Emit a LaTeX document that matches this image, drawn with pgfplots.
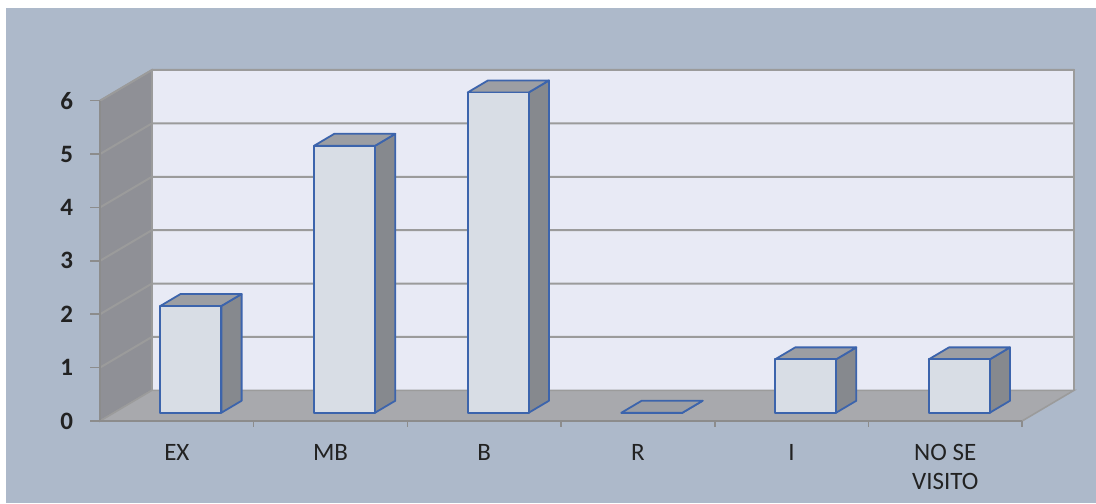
\documentclass[border=0pt]{standalone}
\usepackage{fontspec}
\setmainfont{Carlito}
\usepackage{pgfplots}
\usepackage{pgfplotstable}
\pgfplotsset{compat=1.18}
\definecolor{bgblue}{HTML}{ADB9CA}
\definecolor{wallfill}{HTML}{E8EAF5}
\definecolor{leftwall}{HTML}{8F9096}
\definecolor{floorgrey}{HTML}{A8A9AD}
\definecolor{gridgrey}{HTML}{9B9B9B}
\definecolor{axisgrey}{HTML}{8C8C8C}
\definecolor{barfront}{HTML}{D8DDE5}
\definecolor{barside}{HTML}{86898E}
\definecolor{bartop}{HTML}{9C9EA3}
\definecolor{barblue}{HTML}{3C64AC}
\definecolor{labelcol}{HTML}{222222}

\pgfplotstableread{
idx val
0 2
1 5
2 6
3 0
4 1
5 1
}\datatable

\newcommand{\drawbar}[2]{%
  \addplot[fill=barside, draw=barblue, line width=0.9pt, line join=round] coordinates {({#1+0.7898},0.155) ({#1+0.9215},0.3795) ({#1+0.9215},{#2+0.3795}) ({#1+0.7898},{#2+0.155})} -- cycle;
  \addplot[fill=bartop, draw=barblue, line width=0.9pt, line join=round] coordinates {({#1+0.3928},{#2+0.155}) ({#1+0.7898},{#2+0.155}) ({#1+0.9215},{#2+0.3795}) ({#1+0.5245},{#2+0.3795})} -- cycle;
  \addplot[fill=barfront, draw=barblue, line width=0.9pt, line join=round] coordinates {({#1+0.3928},0.155) ({#1+0.7898},0.155) ({#1+0.7898},{#2+0.155}) ({#1+0.3928},{#2+0.155})} -- cycle;
}

\begin{document}
\begin{tikzpicture}
\fill[white] (0,0) rectangle (548pt,251.5pt);
\fill[bgblue] (3pt,0) rectangle (548pt,247.5pt);
\begin{axis}[
  at={(50pt,41pt)}, anchor=south west,
  scale only axis, width=487pt, height=175.5pt,
  xmin=0, xmax=6.338, ymin=0, ymax=6.575,
  clip=false,
  axis line style={draw=none},
  tick style={draw=none},
  xtick={0.5,1.5,2.5,3.5,4.5,5.5},
  xticklabels={EX,MB,B,R,I,{NO SE\\VISITO}},
  ytick={0,1,2,3,4,5,6},
  /pgf/number format/assume math mode=true,
  xticklabel style={font=\fontsize{12.5}{14.5}\selectfont, text=labelcol, align=center, anchor=north, yshift=-8pt},
  yticklabel style={font=\fontsize{12.5}{14}\selectfont\bfseries, text=labelcol, anchor=east, xshift=-10pt},
]
% walls and floor
\addplot[fill=leftwall, draw=gridgrey, line width=0.8pt] coordinates {(0,0) (0.338,0.575) (0.338,6.575) (0,6)} -- cycle;
\addplot[fill=wallfill, draw=gridgrey, line width=0.8pt] coordinates {(0.338,0.575) (6.338,0.575) (6.338,6.575) (0.338,6.575)} -- cycle;
\addplot[fill=floorgrey, draw=gridgrey, line width=0.8pt] coordinates {(0,0) (6,0) (6.338,0.575) (0.338,0.575)} -- cycle;
% gridlines
\pgfplotsinvokeforeach{1,...,6}{
  \addplot[gridgrey, line width=1pt] coordinates {(0,#1) (0.338,#1+0.575) (6.338,#1+0.575)};
}
% axis lines and ticks
\addplot[axisgrey, line width=0.8pt] coordinates {(0,6) (0,0) (6,0)};
\pgfplotsinvokeforeach{0,...,6}{
  \addplot[axisgrey, line width=0.8pt] coordinates {(-0.065,#1) (0,#1)};
}
\pgfplotsinvokeforeach{1,...,6}{
  \addplot[axisgrey, line width=0.8pt] coordinates {(#1,0) (#1,-0.11)};
}
% bars
\pgfplotsinvokeforeach{0,...,5}{
  \pgfplotstablegetelem{#1}{val}\of\datatable
  \edef\barval{\pgfplotsretval}
  \edef\cmd{\noexpand\drawbar{#1}{\barval}}
  \cmd
}
\end{axis}
\end{tikzpicture}
\end{document}
